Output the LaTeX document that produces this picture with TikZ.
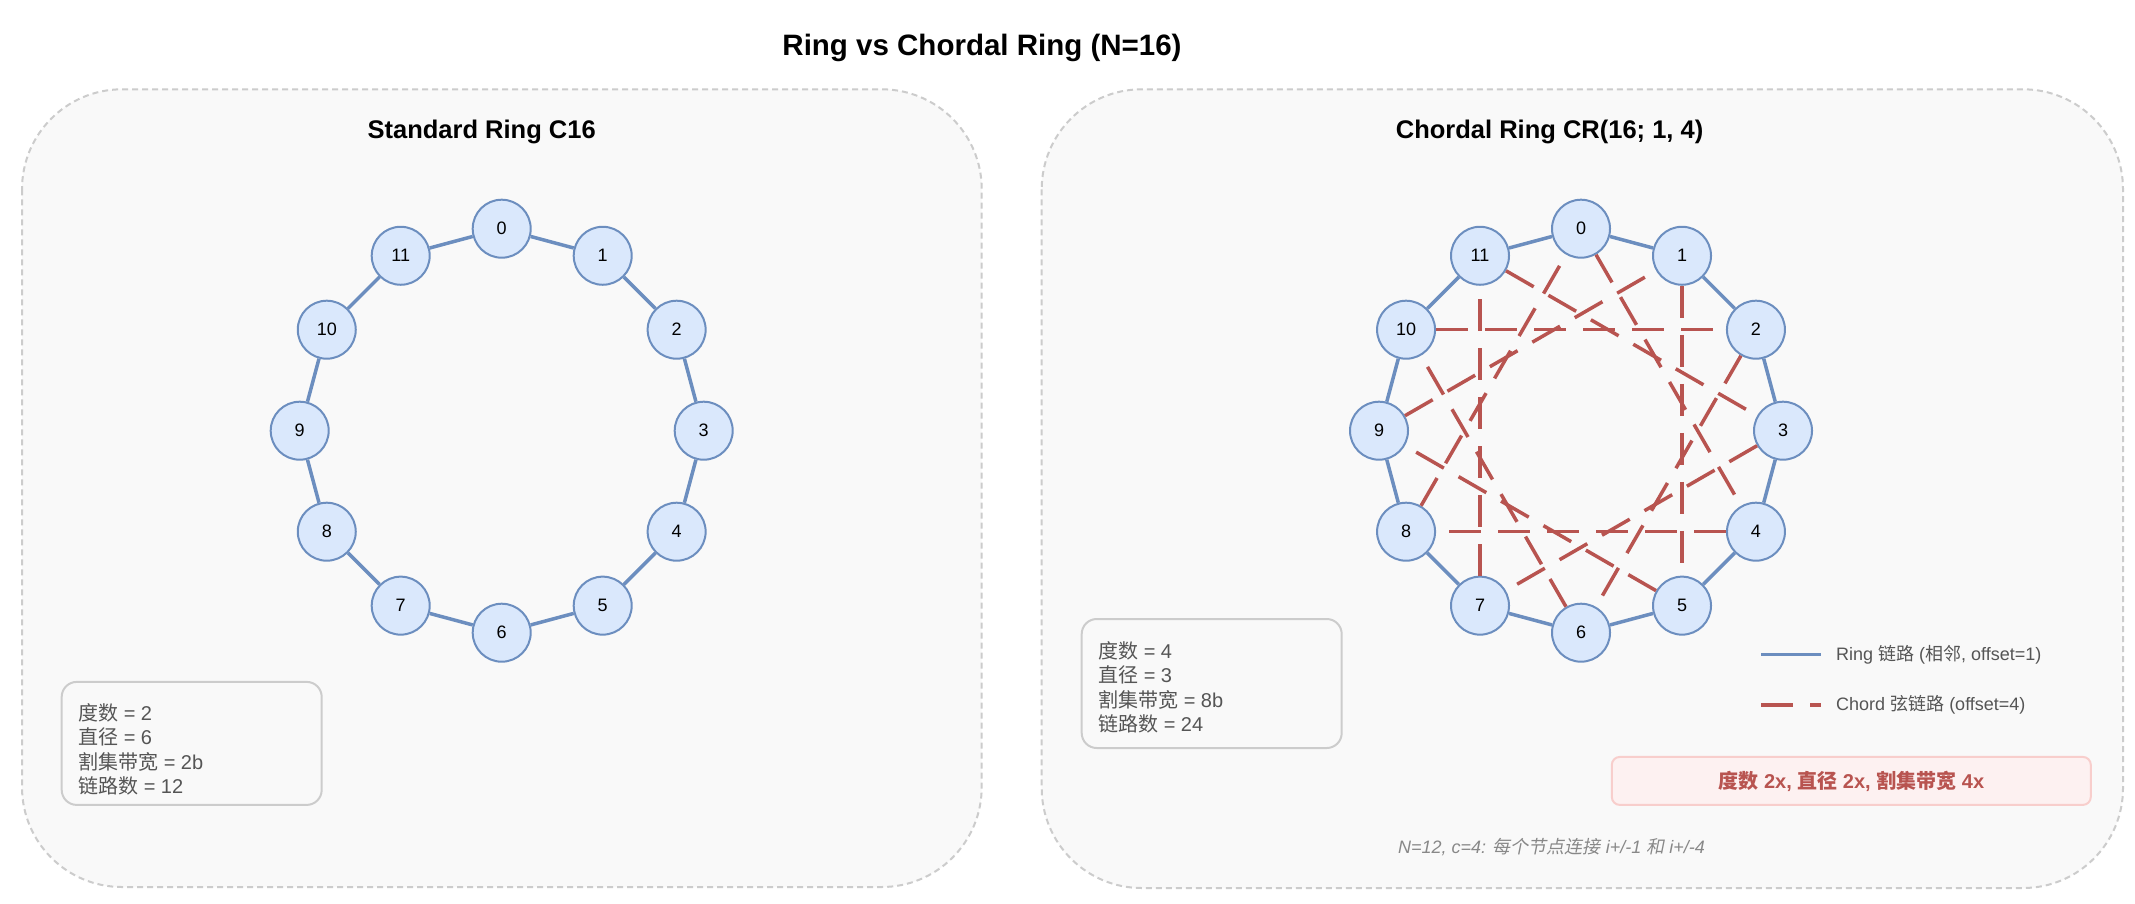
\documentclass[tikz,border=0pt]{standalone}
\usepackage{fontspec}
\setmainfont{Liberation Sans}
\newfontfamily\cjk{Noto Sans CJK SC}
\newfontfamily\cjkit[FakeSlant=0.2]{Noto Sans CJK SC}
\newcommand{\zh}[1]{{\cjk #1}}
\newcommand{\zhi}[1]{{\cjkit #1}}
\usepackage{tikz}
\usetikzlibrary{positioning}
\definecolor{nodefill}{HTML}{DAE8FC}
\definecolor{nodeline}{HTML}{6C8EBF}
\definecolor{chordred}{HTML}{B85450}
\definecolor{panelfill}{HTML}{F9F9F9}
\definecolor{panelline}{HTML}{CCCCCC}
\definecolor{txtgray}{HTML}{555555}
\definecolor{notegray}{HTML}{888888}
\definecolor{hlfill}{HTML}{FDF1F1}
\definecolor{hlline}{HTML}{F8CECC}
\begin{document}
\begin{tikzpicture}[x=1pt,y=-1pt,
vtx/.style={circle,draw=nodeline,fill=nodefill,line width=2pt,minimum size=58pt,inner sep=0pt,font=\fontsize{18}{20}\selectfont},
ringln/.style={draw=nodeline,line width=3.5pt},
chordln/.style={draw=chordred,line width=3.5pt,dash pattern=on 32pt off 17pt},
panel/.style={draw=panelline,fill=panelfill,line width=2pt,dash pattern=on 6pt off 4pt,rounded corners=100pt},
statbox/.style={draw=panelline,fill=panelfill,line width=2pt,rounded corners=15pt,minimum width=260pt},
stattxt/.style={text=txtgray,align=left,inner sep=0pt,anchor=west,font=\fontsize{20}{24.3}\selectfont},
hlbox/.style={draw=hlline,fill=hlfill,line width=2pt,rounded corners=8pt,minimum width=479pt,minimum height=48pt,text=chordred,font=\bfseries\fontsize{20}{24}\selectfont},
ttl/.style={font=\bfseries\fontsize{29.5}{34}\selectfont},
subttl/.style={font=\bfseries\fontsize{25.5}{30}\selectfont,anchor=base},
lgdtxt/.style={text=txtgray,inner sep=0pt,font=\fontsize{18}{22}\selectfont},
note/.style={text=notegray,font=\itshape\fontsize{18}{22}\selectfont}]
\useasboundingbox[fill=white] (0,0) rectangle (2135,903);
% two panels
\draw[panel] (22,89.3) rectangle (981.7,887);
\draw[panel] (1041.7,89.3) rectangle (2123,888);
\node[ttl] (title) at (982,48) {Ring vs Chordal Ring (N=16)};
\node[subttl] (subL) at (481.7,138.3) {Standard Ring C16};
\node[subttl] (subR) at (1549.6,138.3) {Chordal Ring CR(16; 1, 4)};
% stats
\node[statbox,minimum height=123pt] (boxL) at (191.7,743.4) {};
\node[stattxt] (txtL) at (78,749.5) {\zh{度数} = 2\\\zh{直径} = 6\\\zh{割集带宽} = 2b\\\zh{链路数} = 12};
\node[statbox,minimum height=129pt] (boxR) at (1211.7,683.5) {};
\node[stattxt] (txtR) at (1098,687.4) {\zh{度数} = 4\\\zh{直径} = 3\\\zh{割集带宽} = 8b\\\zh{链路数} = 24};
% rings
\foreach \i in {0,...,11}{
  \node[vtx] (L\i) at ({501.7+202*sin(30*\i)},{430.7-202*cos(30*\i)}) {\i};
  \node[vtx] (R\i) at ({1581+202*sin(30*\i)},{430.7-202*cos(30*\i)}) {\i};
}
\foreach \i in {0,...,11}{
  \pgfmathtruncatemacro\j{mod(\i+1,12)}
  \pgfmathtruncatemacro\k{mod(\i+4,12)}
  \draw[ringln] (L\i) -- (L\j);
  \draw[ringln] (R\i) -- (R\j);
  \draw[chordln] (R\i) -- (R\k);
}
% legend
\coordinate (lg1) at (1761,654.3); \coordinate (lg1e) at (1821,654.3);
\draw[ringln] (lg1) -- (lg1e);
\node[lgdtxt,right=15pt of lg1e] (lgt1) {Ring \zh{链路} (\zh{相邻}, offset=1)};
\coordinate (lg2) at (1761,705); \coordinate (lg2e) at (1821,705);
\draw[chordln] (lg2) -- (lg2e);
\node[lgdtxt,right=15pt of lg2e] (lgt2) {Chord \zh{弦链路} (offset=4)};
\node[hlbox] (hl) at (1851.3,780.9) {\zh{度数} 2x, \zh{直径} 2x, \zh{割集带宽} 4x};
\node[note] (nt) at (1551.5,846.7) {N=12, c=4: \zhi{每个节点连接} i+/-1 \zhi{和} i+/-4};
\end{tikzpicture}
\end{document}
